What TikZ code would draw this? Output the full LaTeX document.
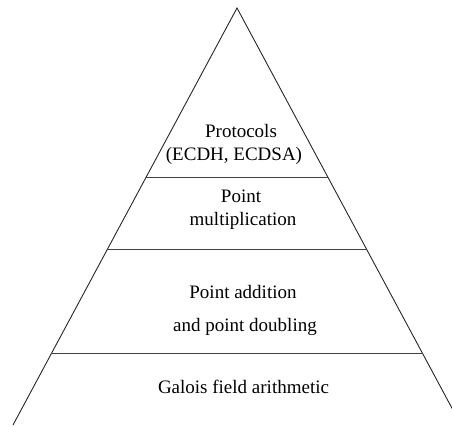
\documentclass[tikz,border=0pt]{standalone}
\usepackage{fontspec}
\setmainfont{LiberationSerif}[Extension=.ttf,UprightFont=*-Regular,BoldFont=*-Bold]
\usetikzlibrary{calc}
\begin{document}
\begin{tikzpicture}[x=1pt,y=-1pt,
  edge/.style={line width=0.9pt,black!85},
  layer/.style={line width=1pt,black!75},
  lbl/.style={anchor=base,inner sep=0pt,font=\fontsize{19}{23}\selectfont}]
\useasboundingbox (0,0) rectangle (452,426);
\clip (0,0) rectangle (452,426);
% outline of the pyramid
\coordinate (apex) at (237,8);
\coordinate (bl) at (13,425);
\coordinate (br) at (461,425);
\draw[edge] (bl) -- (apex) -- (br);
% layer separators, ending on the sides
\coordinate (l1a) at ($(apex)!0.4053!(bl)$);
\coordinate (l1b) at ($(apex)!0.4053!(br)$);
\coordinate (l2a) at ($(apex)!0.578!(bl)$);
\coordinate (l2b) at ($(apex)!0.578!(br)$);
\coordinate (l3a) at ($(apex)!0.8297!(bl)$);
\coordinate (l3b) at ($(apex)!0.8297!(br)$);
\draw[layer] (l1a) -- (l1b);
\draw[layer] (l2a) -- (l2b);
\draw[layer] (l3a) -- (l3b);
% layer labels
\node[lbl] (p1) at (241,137) {Protocols};
\node[lbl] (p2) at (234,160) {(ECDH, ECDSA)};
\node[lbl] (m1) at (241,202) {Point};
\node[lbl] (m2) at (243,225) {multiplication};
\node[lbl] (a1) at (243,298) {Point addition};
\node[lbl] (a2) at (245,331) {and point doubling};
\node[lbl] (g1) at (243.5,393) {Galois field arithmetic};
\end{tikzpicture}
\end{document}
